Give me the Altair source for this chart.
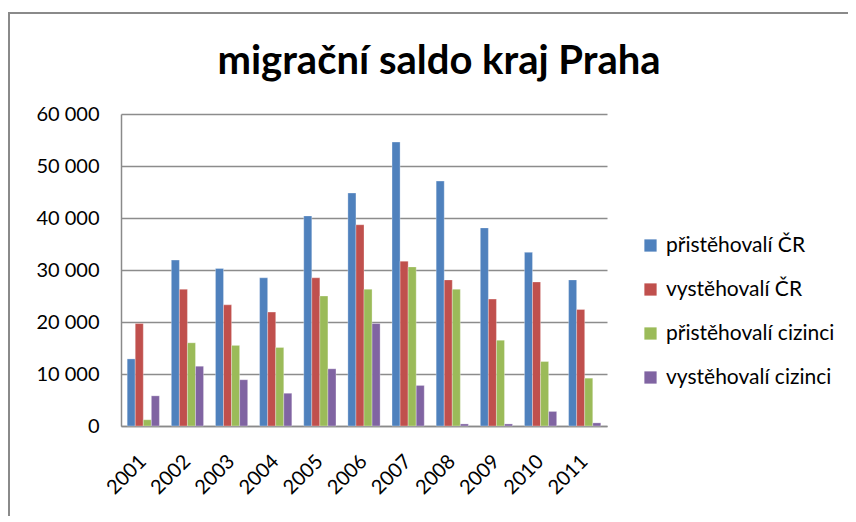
import altair as alt
import pandas as pd

years = ["2001", "2002", "2003", "2004", "2005", "2006", "2007", "2008", "2009", "2010", "2011"]
series = ["přistěhovalí ČR", "vystěhovalí ČR", "přistěhovalí cizinci", "vystěhovalí cizinci"]
prist_cr = [12900, 31900, 30300, 28500, 40400, 44800, 54600, 47100, 38100, 33400, 28100]
vyst_cr = [19700, 26300, 23300, 21900, 28500, 38700, 31700, 28100, 24400, 27700, 22400]
prist_ciz = [1200, 16000, 15500, 15100, 25000, 26300, 30600, 26300, 16500, 12400, 9200]
vyst_ciz = [5800, 11500, 8900, 6300, 11000, 19700, 7800, 400, 400, 2800, 600]
colors = ["#4F81BD", "#C0504D", "#9BBB59", "#8064A2"]
title_text = "migrační saldo kraj Praha"

rows = []
for name, vals in zip(series, [prist_cr, vyst_cr, prist_ciz, vyst_ciz]):
    for y, v in zip(years, vals):
        rows.append({"rok": y, "serie": name, "hodnota": v})
df = pd.DataFrame(rows)

FONT = "Lato"

bars = alt.Chart(df).mark_bar(stroke="white", strokeWidth=0.5, strokeOpacity=0.6).encode(
    x=alt.X("rok:N", sort=years, title=None,
            scale=alt.Scale(paddingInner=0.27, paddingOuter=0.14),
            axis=alt.Axis(labelAngle=-45, labelAlign="right", labelBaseline="middle",
                          labelPadding=32, labelFontSize=20, labelFont=FONT, labelColor="#000",
                          ticks=False, domainColor="#8a8a8a", domainWidth=1.5)),
    xOffset=alt.XOffset("serie:N", sort=series),
    y=alt.Y("hodnota:Q", title=None,
            scale=alt.Scale(domain=[0, 60000]),
            axis=alt.Axis(values=[0, 10000, 20000, 30000, 40000, 50000, 60000],
                          labelExpr="replace(format(datum.value, ',d'), ',', ' ')",
                          labelFontSize=20, labelFont=FONT, labelColor="#000", labelPadding=22,
                          ticks=False, domainColor="#8a8a8a", domainWidth=1.5,
                          grid=True, gridColor="#8c8c8c", gridWidth=1.5)),
    color=alt.Color("serie:N", sort=series,
                    scale=alt.Scale(domain=series, range=colors),
                    legend=alt.Legend(title=None, orient="none", legendX=519, legendY=121,
                                      symbolType="square", symbolSize=150, symbolStrokeWidth=0,
                                      labelFontSize=21, labelFont=FONT, labelColor="#000",
                                      labelLimit=400,
                                      rowPadding=22, padding=0, labelOffset=5)),
)

frame_df = pd.DataFrame({"k": [1]})
top_line = alt.Chart(frame_df).mark_rule(color="#8a8a8a", strokeWidth=2).encode(
    x=alt.value(-113), x2=alt.value(735), y=alt.value(-101))
left_line = alt.Chart(frame_df).mark_rule(color="#8a8a8a", strokeWidth=2).encode(
    x=alt.value(-112), y=alt.value(-101), y2=alt.value(410))
title = alt.Chart(pd.DataFrame({"t": [title_text]})).mark_text(
    font=FONT, fontSize=40, fontWeight="bold", color="#000", align="center", baseline="alphabetic"
).encode(x=alt.value(318), y=alt.value(-40), text="t:N")

chart = alt.layer(top_line, left_line, title, bars).properties(
    width=486, height=312,
    autosize=alt.AutoSizeParams(type="none"),
    padding={"left": 113, "top": 106, "right": 241, "bottom": 90},
).configure_view(stroke=None)

chart.save("out.html", embed_options={"renderer": "svg", "actions": False})
